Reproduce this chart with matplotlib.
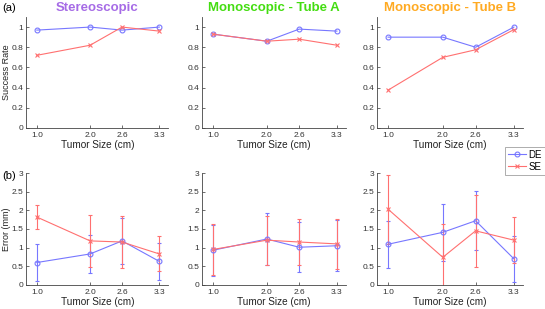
import matplotlib
matplotlib.use("Agg")
import matplotlib.pyplot as plt
import numpy as np

plt.rcParams['font.family'] = ['Liberation Sans', 'DejaVu Sans']

sizes = [1.0, 2.0, 2.6, 3.3]
size_labels = ["1.0", "2.0", "2.6", "3.3"]
titles = ["Stereoscopic", "Monoscopic - Tube A", "Monoscopic - Tube B"]
title_colors = ["#a66be6", "#44dd11", "#ffaa22"]

# Success rate
de_rate = [[0.97, 1.00, 0.97, 1.00],
           [0.93, 0.86, 0.98, 0.96],
           [0.90, 0.90, 0.80, 1.00]]
se_rate = [[0.72, 0.82, 1.00, 0.96],
           [0.93, 0.86, 0.88, 0.82],
           [0.375, 0.70, 0.775, 0.975]]

# Error (mm) mean and std
de_err = [[0.60, 0.83, 1.18, 0.63],
          [0.93, 1.23, 1.01, 1.05],
          [1.09, 1.41, 1.72, 0.70]]
de_std = [[0.50, 0.51, 0.61, 0.49],
          [0.68, 0.69, 0.67, 0.68],
          [0.63, 0.77, 0.79, 0.61]]
se_err = [[1.82, 1.18, 1.15, 0.83],
          [0.95, 1.20, 1.15, 1.10],
          [2.03, 0.74, 1.45, 1.20]]
se_std = [[0.32, 0.70, 0.70, 0.47],
          [0.69, 0.66, 0.61, 0.67],
          [0.93, 0.90, 0.97, 0.61]]

DE_C = "#7777ff"
SE_C = "#ff7070"

fig = plt.figure(figsize=(5.45, 3.09), dpi=100)
lefts = [0.048, 0.371, 0.692]
widths = [0.261, 0.264, 0.268]
top_y, top_h = 0.586, 0.359
bot_y, bot_h = 0.078, 0.362

def style(ax):
    for s in ['top', 'right']:
        ax.spines[s].set_visible(False)
    for s in ['left', 'bottom']:
        ax.spines[s].set_color('#444444')
        ax.spines[s].set_linewidth(0.6)
    ax.tick_params(direction='in', length=2, width=0.5, labelsize=6, colors='#333333', pad=2)
    ax.tick_params(axis='x', pad=3)
    ax.set_xlim(0.8, 3.47)
    ax.set_xticks(sizes)
    ax.set_xticklabels(size_labels)
    ax.set_xlabel("Tumor Size (cm)", fontsize=7.2, labelpad=1, color='#222222')

for i in range(3):
    ax = fig.add_axes([lefts[i], top_y, widths[i], top_h])
    ax.plot(sizes, de_rate[i], '-o', color=DE_C, lw=0.8, ms=3.5, mfc='none', mew=0.8, label='DE')
    ax.plot(sizes, se_rate[i], '-x', color=SE_C, lw=0.8, ms=3, mew=0.8, label='SE')
    ax.set_ylim(0, 1.1)
    ax.set_yticks([0, 0.2, 0.4, 0.6, 0.8, 1])
    ax.set_yticklabels(["0", "0.2", "0.4", "0.6", "0.8", "1"])
    style(ax)
    ax.set_title(titles[i], fontsize=9.5, fontweight='bold', color=title_colors[i], pad=4)
    if i == 0:
        ax.set_ylabel("Success Rate", fontsize=6.5, color='#222222')
        ax.yaxis.set_label_coords(-0.11, 0.5)

    axb = fig.add_axes([lefts[i], bot_y, widths[i], bot_h])
    axb.errorbar(sizes, de_err[i], yerr=de_std[i], fmt='-o', color=DE_C, lw=0.8, ms=3.5,
                 mfc='none', mew=0.8, elinewidth=0.8, capsize=1.5, capthick=0.8, label='DE')
    axb.errorbar(sizes, se_err[i], yerr=se_std[i], fmt='-x', color=SE_C, lw=0.8, ms=3,
                 mew=0.8, elinewidth=0.8, capsize=1.5, capthick=0.8, label='SE')
    axb.set_ylim(0, 3)
    axb.set_yticks([0, 0.5, 1, 1.5, 2, 2.5, 3])
    axb.set_yticklabels(["0", "0.5", "1", "1.5", "2", "2.5", "3"])
    style(axb)
    if i == 0:
        axb.set_ylabel("Error (mm)", fontsize=6.5, color='#222222')
        axb.yaxis.set_label_coords(-0.11, 0.5)
    if i == 2:
        h, l = ax.get_legend_handles_labels()
        leg = fig.legend(h, l, loc='upper right', bbox_to_anchor=(1.0, 0.525), fontsize=7,
                         frameon=True, fancybox=False, edgecolor='#888888', handlelength=1.8,
                         borderpad=0.3, labelspacing=0.2, handletextpad=0.3, borderaxespad=0.0)
        leg.get_frame().set_linewidth(0.6)

fig.text(0.005, 0.975, "(a)", fontsize=8, va='center', ha='left')
fig.text(0.005, 0.43, "(b)", fontsize=8, va='center', ha='left')

fig.savefig("out.png", dpi=100)
